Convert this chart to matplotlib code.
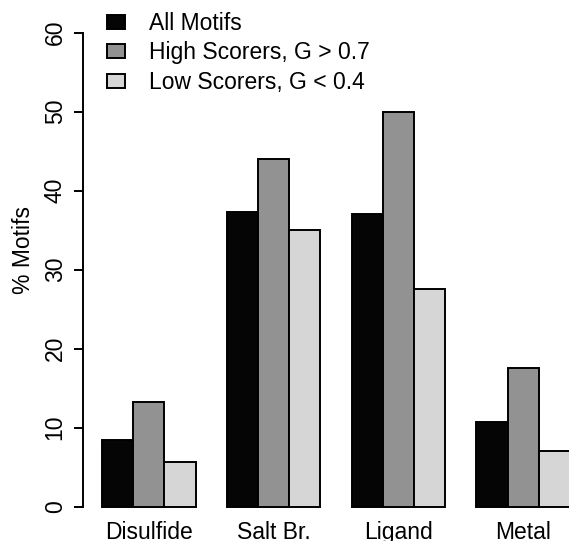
import matplotlib
matplotlib.use("Agg")
import matplotlib.pyplot as plt
from matplotlib.patches import Patch
import numpy as np

categories = ["Disulfide", "Salt Br.", "Ligand", "Metal"]
series_names = ["All Motifs", "High Scorers, G > 0.7", "Low Scorers, G < 0.4"]
all_motifs = [8.5, 37.3, 37.1, 10.7]
high_scorers = [13.2, 44.0, 49.9, 17.5]
low_scorers = [5.6, 35.0, 27.6, 7.1]
yticks = [0, 10, 20, 30, 40, 50, 60]

colors = ["#050505", "#929292", "#d6d6d6"]
FS = 16.5
plt.rcParams['font.family'] = ['Liberation Sans', 'DejaVu Sans']

W, H = 569, 541
fig = plt.figure(figsize=(W / 100, H / 100), dpi=100)
left_px, right_px = 83.3, 588.7
top_px, bottom_px = 13.7, 525.7
ax = fig.add_axes([left_px / W, 1 - bottom_px / H,
                   (right_px - left_px) / W, (bottom_px - top_px) / H])

series = [all_motifs, high_scorers, low_scorers]
ngroups = len(categories)
for j, vals in enumerate(series):
    x = np.arange(ngroups) * 4 + 1.5 + j
    ax.bar(x, vals, width=1.0, color=colors[j], edgecolor="black",
           linewidth=1.4, label=series_names[j])

ax.set_xlim(0.4, 16.6)
ax.set_ylim(-2.4, 62.4)

for s in ["top", "right", "bottom"]:
    ax.spines[s].set_visible(False)
ax.spines["left"].set_bounds(0, 60)
ax.spines["left"].set_linewidth(1.4)
ax.set_yticks(yticks)
ax.set_yticklabels([str(t) for t in yticks], rotation=90, va="center", fontsize=FS)
ax.tick_params(axis="y", length=6.5, width=1.4, pad=5.5)

centers = np.arange(ngroups) * 4 + 2.5
ax.set_xticks(centers)
ax.set_xticklabels(categories, fontsize=FS)
ax.tick_params(axis="x", length=0, pad=-3.2)

fig.text(24 / W, 1 - 250 / H, "% Motifs", rotation=90, ha="center", va="center", fontsize=FS)

handles = [Patch(facecolor=colors[j], edgecolor="black", linewidth=1.4) for j in range(3)]
leg = fig.legend(handles, series_names, loc="upper left",
                 bbox_to_anchor=(107 / W, 1 - 12 / H), frameon=False, fontsize=FS,
                 handlelength=0.78, handleheight=0.55, handletextpad=1.05,
                 labelspacing=0.28, borderpad=0, borderaxespad=0)

fig.savefig("out.png", dpi=100)
